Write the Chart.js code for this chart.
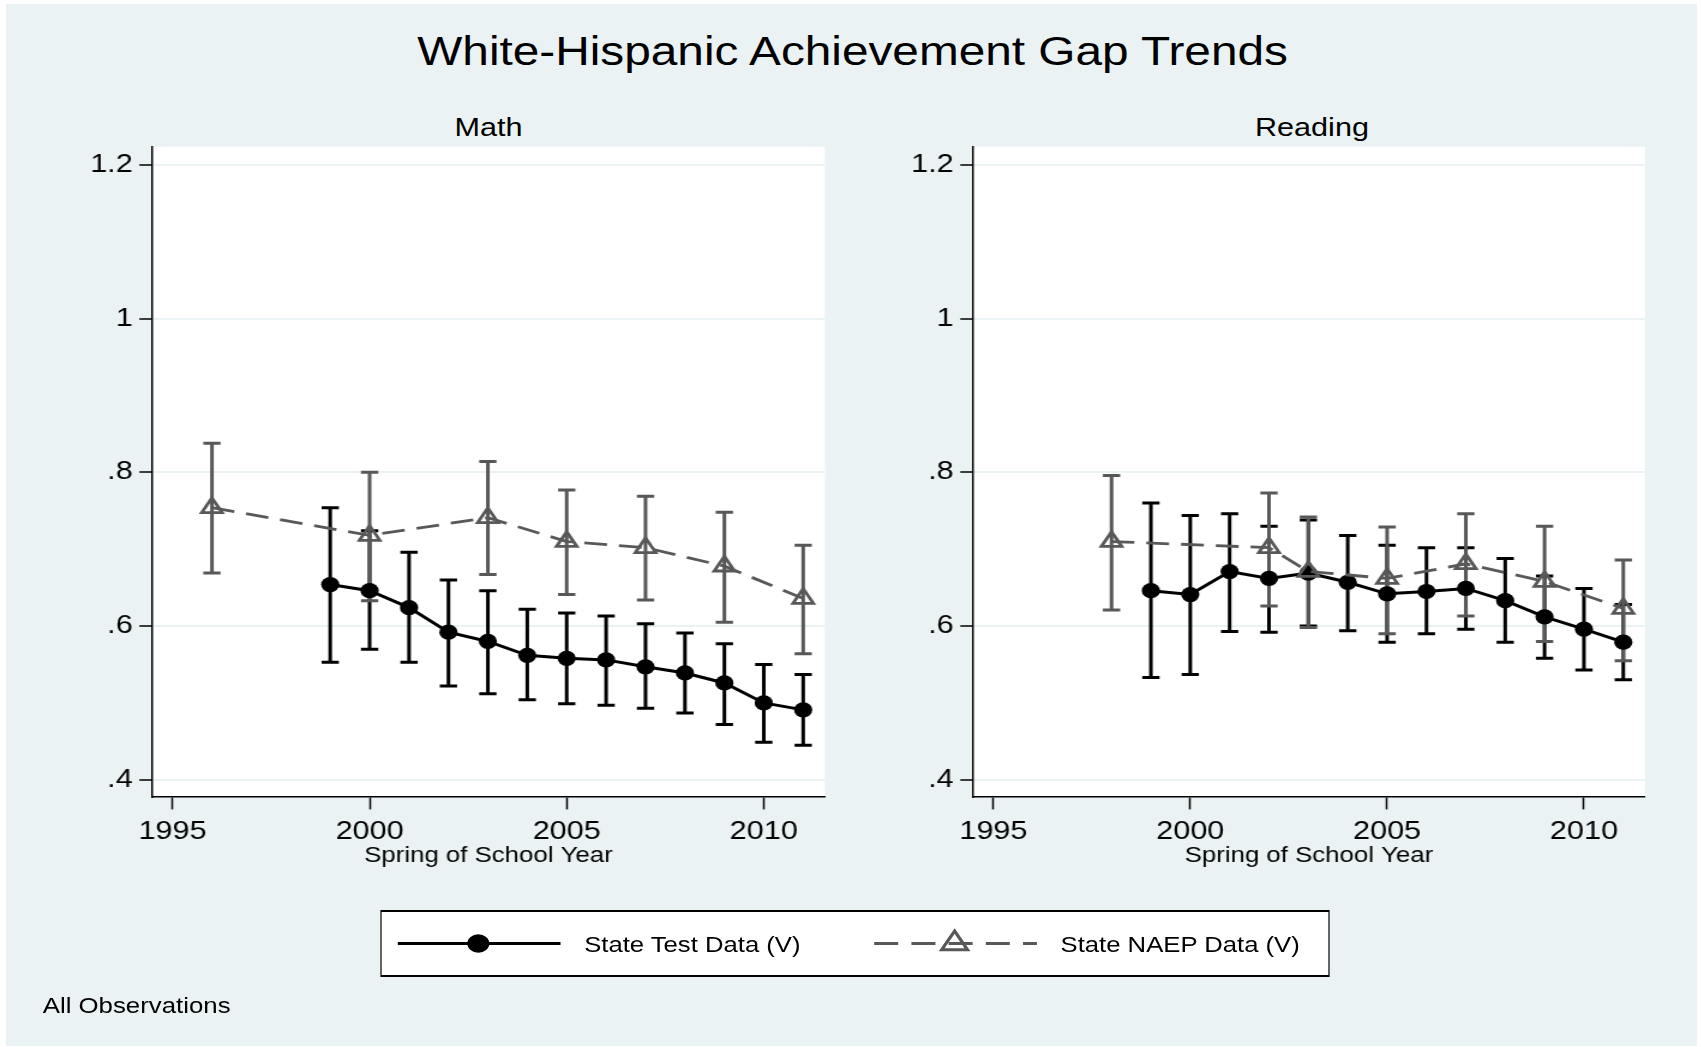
<!DOCTYPE html>
<html>
<head>
<meta charset="utf-8">
<title>White-Hispanic Achievement Gap Trends</title>
<script src="https://cdn.jsdelivr.net/npm/chart.js@4.4.1/dist/chart.umd.min.js"></script>
<style>
  html, body { margin: 0; padding: 0; background: #ffffff; width: 1701px; height: 1047px; overflow: hidden; }
  /* the page is laid out on a narrower sheet and widened by 1.2 */
  #page { position: absolute; left: 0; top: 0; width: 1417.5px; height: 1047px;
          transform: scaleX(1.2); transform-origin: 0 0;
          font-family: "Liberation Sans", Arial, sans-serif; color: #000; }
  #bg { position: absolute; left: 5px; top: 4px; width: 1408.5px; height: 1042px; background: #EAF2F3; }
  .txt { position: absolute; white-space: nowrap; line-height: 1; }
  #title { left: 0; width: 1421px; top: 32.1px; font-size: 39.8px; text-align: center; }
  .panelTitle { top: 115.1px; font-size: 25.5px; width: 400px; text-align: center; }
  #mathTitle { left: 207.1px; }
  #readTitle { left: 893.3px; }
  canvas { position: absolute; top: 0; }
  #mathChart { left: 0; }
  #readChart { left: 684px; }
  #legendBox { position: absolute; left: 316.5px; top: 910px; width: 791.8px; height: 67px;
               box-sizing: border-box; border-style: solid; border-color: #000;
               border-width: 2px 1.5px; background: #ffffff; }
  #legendMarks { position: absolute; left: 0; top: 0; }
  .legendText { top: 935.4px; font-size: 21.4px; }
  #leg1 { left: 486.8px; }
  #leg2 { left: 883.8px; }
  #note { left: 35.6px; top: 996px; font-size: 21.5px; }
</style>
</head>
<body>
<div id="page">
  <div id="bg"></div>
  <div id="title" class="txt">White-Hispanic Achievement Gap Trends</div>
  <div id="mathTitle" class="txt panelTitle">Math</div>
  <div id="readTitle" class="txt panelTitle">Reading</div>
  <canvas id="mathChart" width="700" height="880" style="width:700px;height:880px"></canvas>
  <canvas id="readChart" width="700" height="880" style="width:700px;height:880px"></canvas>
  <div id="legendBox"></div>
  <svg id="legendMarks" width="1417.5" height="1047">
    <line x1="331.5" y1="943.5" x2="467.1" y2="943.5" stroke="#000" stroke-width="3"/>
    <circle cx="398.6" cy="943.5" r="9.2" fill="#000"/>
    <line x1="728.5" y1="943.5" x2="864.1" y2="943.5" stroke="#585858" stroke-width="2.8" stroke-dasharray="20 11"/>
    <polygon points="795.5,931 806.3,949.75 784.7,949.75" fill="none" stroke="#585858" stroke-width="2.8"/>
  </svg>
  <div id="leg1" class="txt legendText">State Test Data (V)</div>
  <div id="leg2" class="txt legendText">State NAEP Data (V)</div>
  <div id="note" class="txt">All Observations</div>
</div>

<script>
// ---- axes ----
const xTickValues = [1995, 2000, 2005, 2010];
const yTickValues = [0.4, 0.6, 0.8, 1.0, 1.2];
const yTickLabels = ['.4', '.6', '.8', '1', '1.2'];

// ---- Math: state test gap with confidence bounds ----
const mathStateYears = [1999, 2000, 2001, 2002, 2003, 2004, 2005, 2006, 2007, 2008, 2009, 2010, 2011];
const mathState   = [0.654, 0.646, 0.624, 0.592, 0.580, 0.562, 0.558, 0.556, 0.547, 0.539, 0.526, 0.500, 0.491];
const mathStateLo = [0.553, 0.570, 0.553, 0.522, 0.512, 0.504, 0.499, 0.497, 0.493, 0.487, 0.472, 0.449, 0.445];
const mathStateHi = [0.754, 0.724, 0.696, 0.660, 0.646, 0.622, 0.617, 0.613, 0.603, 0.591, 0.577, 0.550, 0.537];

// ---- Math: state NAEP gap ----
const mathNaepYears = [1996, 2000, 2003, 2005, 2007, 2009, 2011];
const mathNaep   = [0.754, 0.718, 0.741, 0.710, 0.702, 0.678, 0.636];
const mathNaepLo = [0.669, 0.633, 0.667, 0.641, 0.634, 0.605, 0.564];
const mathNaepHi = [0.838, 0.800, 0.814, 0.777, 0.769, 0.748, 0.705];

// ---- Reading: state test gap ----
const readStateYears = [1999, 2000, 2001, 2002, 2003, 2004, 2005, 2006, 2007, 2008, 2009, 2010, 2011];
const readState   = [0.646, 0.641, 0.671, 0.662, 0.669, 0.657, 0.642, 0.645, 0.649, 0.633, 0.612, 0.596, 0.579];
const readStateLo = [0.533, 0.537, 0.593, 0.592, 0.600, 0.594, 0.579, 0.590, 0.596, 0.579, 0.558, 0.543, 0.530];
const readStateHi = [0.760, 0.744, 0.746, 0.730, 0.738, 0.718, 0.705, 0.702, 0.702, 0.688, 0.665, 0.649, 0.628];

// ---- Reading: state NAEP gap ----
const readNaepYears = [1998, 2002, 2003, 2005, 2007, 2009, 2011];
const readNaep   = [0.710, 0.702, 0.671, 0.662, 0.681, 0.658, 0.623];
const readNaepLo = [0.621, 0.626, 0.598, 0.590, 0.613, 0.580, 0.555];
const readNaepHi = [0.796, 0.773, 0.742, 0.729, 0.746, 0.730, 0.686];

const FONT = '"Liberation Sans", Arial, sans-serif';
const BLACK = '#000000';
const GREY = '#585858';
const GRID = '#EAF2F3';

function points(xs, ys) {
  return xs.map((x, i) => ({ x: x, y: ys[i] }));
}

// white plot region behind grid and data
const plotBackground = {
  id: 'plotBackground',
  beforeDraw(chart) {
    const { ctx, chartArea: a } = chart;
    ctx.save();
    ctx.fillStyle = '#ffffff';
    ctx.fillRect(a.left, a.top, a.right - a.left, a.bottom - a.top);
    ctx.restore();
  }
};

// capped vertical bars from the lower to the upper bound
function errorBars(groups) {
  return {
    id: 'errorBars',
    beforeDatasetsDraw(chart) {
      const { ctx } = chart;
      const xs = chart.scales.x, ys = chart.scales.y;
      const cap = 7.2;
      ctx.save();
      ctx.lineWidth = 3;
      ctx.lineCap = 'butt';
      groups.forEach(g => {
        ctx.strokeStyle = g.color;
        g.years.forEach((yr, i) => {
          const px = xs.getPixelForValue(yr);
          const pLo = ys.getPixelForValue(g.lo[i]);
          const pHi = ys.getPixelForValue(g.hi[i]);
          ctx.beginPath();
          ctx.moveTo(px, pLo); ctx.lineTo(px, pHi);
          ctx.moveTo(px - cap, pLo); ctx.lineTo(px + cap, pLo);
          ctx.moveTo(px - cap, pHi); ctx.lineTo(px + cap, pHi);
          ctx.stroke();
        });
      });
      ctx.restore();
    }
  };
}

function panel(canvasId, axisWidth, padRight, s, n) {
  return new Chart(document.getElementById(canvasId), {
    type: 'line',
    data: {
      datasets: [
        {
          label: 'State Test Data (V)',
          data: points(s.years, s.values),
          borderColor: BLACK,
          backgroundColor: BLACK,
          borderWidth: 3,
          tension: 0,
          pointStyle: 'circle',
          pointRadius: 7.6,
          pointBackgroundColor: BLACK,
          pointBorderColor: BLACK,
          pointBorderWidth: 0,
          order: 2
        },
        {
          label: 'State NAEP Data (V)',
          data: points(n.years, n.values),
          borderColor: GREY,
          borderWidth: 2.8,
          borderDash: [19, 10],
          tension: 0,
          pointStyle: 'triangle',
          pointRadius: 9.8,
          pointBackgroundColor: 'rgba(0,0,0,0)',
          pointBorderColor: GREY,
          pointBorderWidth: 2.8,
          order: 1
        }
      ]
    },
    options: {
      responsive: false,
      animation: false,
      devicePixelRatio: 1,
      layout: { padding: { top: 146.7, right: padRight, bottom: 0, left: 0 } },
      plugins: {
        legend: { display: false },
        tooltip: { enabled: false },
        title: { display: false }
      },
      scales: {
        x: {
          type: 'linear',
          min: 1994.48,
          max: 2011.55,
          afterBuildTicks: sc => { sc.ticks = xTickValues.map(v => ({ value: v })); },
          afterFit: sc => { sc.height = 83.3; },
          grid: { drawOnChartArea: false, drawTicks: true, tickLength: 12.7, tickColor: BLACK, tickWidth: 1.5 },
          border: { display: true, color: BLACK, width: 1.5 },
          ticks: {
            font: { family: FONT, size: 25.5 },
            color: BLACK,
            padding: 6.8,
            maxRotation: 0,
            autoSkip: false,
            callback: v => String(v)
          },
          title: {
            display: true,
            text: 'Spring of School Year',
            font: { family: FONT, size: 21.5 },
            color: BLACK,
            padding: { top: 0, bottom: 11.4 }
          }
        },
        y: {
          type: 'linear',
          min: 0.378,
          max: 1.2237,
          afterBuildTicks: sc => { sc.ticks = yTickValues.map(v => ({ value: v })); },
          afterFit: sc => { sc.width = axisWidth; },
          grid: { color: GRID, lineWidth: 2, drawTicks: true, tickLength: 10.6, tickColor: BLACK, tickWidth: 1.5 },
          border: { display: true, color: BLACK, width: 1.5 },
          ticks: {
            font: { family: FONT, size: 25.5 },
            color: BLACK,
            padding: 5.5,
            callback: (v, i) => yTickLabels[i]
          }
        }
      }
    },
    plugins: [
      plotBackground,
      errorBars([
        { years: s.years, lo: s.lo, hi: s.hi, color: BLACK },
        { years: n.years, lo: n.lo, hi: n.hi, color: GREY }
      ])
    ]
  });
}

panel('mathChart', 126.7, 12.5,
  { years: mathStateYears, values: mathState, lo: mathStateLo, hi: mathStateHi },
  { years: mathNaepYears, values: mathNaep, lo: mathNaepLo, hi: mathNaepHi });

panel('readChart', 126.8, 13.2,
  { years: readStateYears, values: readState, lo: readStateLo, hi: readStateHi },
  { years: readNaepYears, values: readNaep, lo: readNaepLo, hi: readNaepHi });
</script>
</body>
</html>
